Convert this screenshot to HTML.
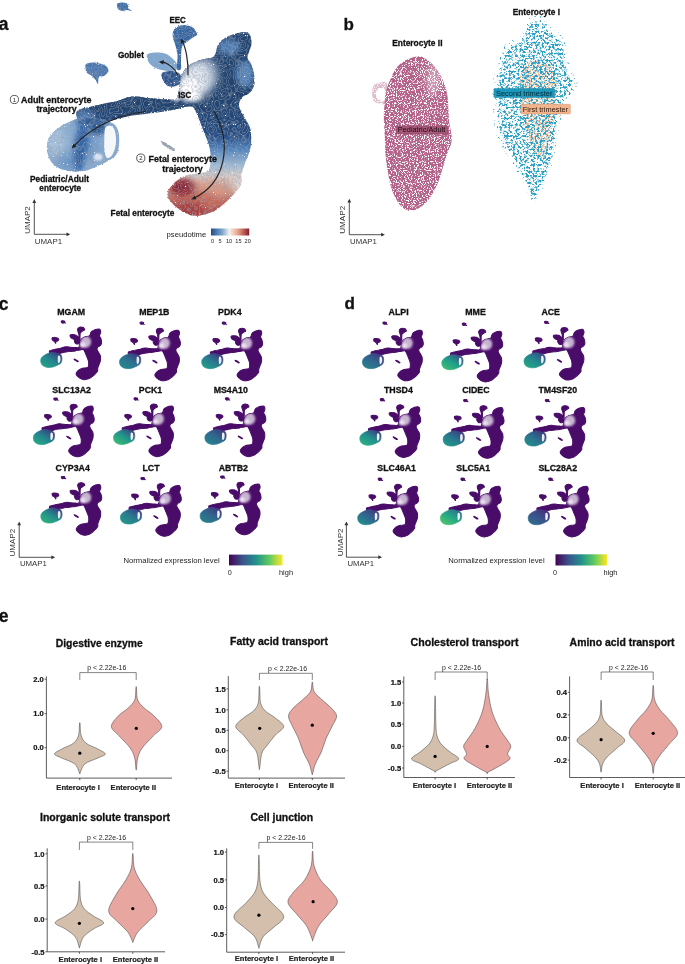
<!DOCTYPE html>
<html><head><meta charset="utf-8"><style>
html,body{margin:0;padding:0;background:#fff;overflow:hidden;}
svg{display:block;will-change:transform;}
text{font-family:"Liberation Sans",sans-serif;}
</style></head><body>
<svg width="685" height="964" viewBox="0 0 685 964">
<defs>
<linearGradient id="gdesc" gradientUnits="userSpaceOnUse" x1="0" y1="100" x2="0" y2="216">
<stop offset="0" stop-color="#22446f"/>
<stop offset="0.3" stop-color="#254b82"/>
<stop offset="0.42" stop-color="#4f82ba"/>
<stop offset="0.56" stop-color="#9fbcd8"/>
<stop offset="0.66" stop-color="#d8cdc8"/>
<stop offset="0.76" stop-color="#d99a84"/>
<stop offset="0.88" stop-color="#c05a4e"/>
<stop offset="1" stop-color="#a33a3c"/>
</linearGradient>
<linearGradient id="gpb" x1="0" y1="0" x2="1" y2="0">
<stop offset="0" stop-color="#440154"/><stop offset="0.25" stop-color="#3b528b"/><stop offset="0.5" stop-color="#21918c"/><stop offset="0.75" stop-color="#5ec962"/><stop offset="1" stop-color="#fde725"/>
</linearGradient>
<linearGradient id="gpt" x1="0" y1="0" x2="1" y2="0">
<stop offset="0" stop-color="#1e4c8c"/><stop offset="0.3" stop-color="#7fa9d2"/><stop offset="0.48" stop-color="#f4f1ee"/><stop offset="0.7" stop-color="#e7a58a"/><stop offset="1" stop-color="#8d1a2c"/>
</linearGradient>

<path id="u_top" d="M117.00,4.00C117.50,2.92 119.50,2.67 121.00,2.50C122.50,2.33 124.67,2.58 126.00,3.00C127.33,3.42 128.67,4.17 129.00,5.00C129.33,5.83 127.50,7.00 128.00,8.00C128.50,9.00 132.17,10.67 132.00,11.00C131.83,11.33 128.67,10.00 127.00,10.00C125.33,10.00 123.50,11.17 122.00,11.00C120.50,10.83 118.83,10.17 118.00,9.00C117.17,7.83 116.50,5.08 117.00,4.00Z"/>
<path id="u_left" d="M86.00,64.00C87.08,63.08 89.67,62.58 92.00,62.50C94.33,62.42 97.67,62.92 100.00,63.50C102.33,64.08 104.58,64.75 106.00,66.00C107.42,67.25 108.83,69.33 108.50,71.00C108.17,72.67 105.58,75.00 104.00,76.00C102.42,77.00 100.00,75.67 99.00,77.00C98.00,78.33 98.58,83.50 98.00,84.00C97.42,84.50 96.50,81.33 95.50,80.00C94.50,78.67 93.42,77.17 92.00,76.00C90.58,74.83 88.08,74.33 87.00,73.00C85.92,71.67 85.67,69.50 85.50,68.00C85.33,66.50 84.92,64.92 86.00,64.00Z"/>
<path id="u_goblet" d="M147.00,55.00C147.83,53.08 152.00,52.75 155.00,52.50C158.00,52.25 162.17,52.58 165.00,53.50C167.83,54.42 170.00,56.25 172.00,58.00C174.00,59.75 176.33,62.00 177.00,64.00C177.67,66.00 177.50,68.83 176.00,70.00C174.50,71.17 171.00,71.17 168.00,71.00C165.00,70.83 161.00,70.17 158.00,69.00C155.00,67.83 151.83,66.33 150.00,64.00C148.17,61.67 146.17,56.92 147.00,55.00Z"/>
<path id="u_gobdark" d="M162.00,73.00C163.50,71.50 169.00,70.83 172.00,71.00C175.00,71.17 178.50,72.17 180.00,74.00C181.50,75.83 181.67,80.00 181.00,82.00C180.33,84.00 178.17,85.33 176.00,86.00C173.83,86.67 170.17,87.00 168.00,86.00C165.83,85.00 164.00,82.17 163.00,80.00C162.00,77.83 160.50,74.50 162.00,73.00Z"/>
<path id="u_eec" d="M173.00,32.00C173.67,30.17 175.17,28.17 177.00,27.00C178.83,25.83 181.50,25.00 184.00,25.00C186.50,25.00 190.17,26.17 192.00,27.00C193.83,27.83 194.17,28.67 195.00,30.00C195.83,31.33 197.50,33.67 197.00,35.00C196.50,36.33 193.67,36.83 192.00,38.00C190.33,39.17 188.67,40.50 187.00,42.00C185.33,43.50 183.00,43.67 182.00,47.00C181.00,50.33 181.17,58.33 181.00,62.00C180.83,65.67 181.67,67.83 181.00,69.00C180.33,70.17 177.58,71.33 177.00,69.00C176.42,66.67 177.83,59.17 177.50,55.00C177.17,50.83 175.75,46.83 175.00,44.00C174.25,41.17 173.33,40.00 173.00,38.00C172.67,36.00 172.33,33.83 173.00,32.00Z"/>
<path id="u_body" d="M77.60,110.60C79.77,108.77 85.43,108.18 90.00,107.00C94.57,105.82 100.43,104.50 105.00,103.50C109.57,102.50 113.73,102.00 117.40,101.00C121.07,100.00 123.83,98.27 127.00,97.50C130.17,96.73 132.62,96.27 136.40,96.40C140.18,96.53 144.95,97.83 149.70,98.30C154.45,98.77 160.52,99.08 164.90,99.20C169.28,99.32 173.65,100.53 176.00,99.00C178.35,97.47 178.17,93.50 179.00,90.00C179.83,86.50 179.83,81.67 181.00,78.00C182.17,74.33 183.67,70.67 186.00,68.00C188.33,65.33 191.83,63.50 195.00,62.00C198.17,60.50 202.00,59.83 205.00,59.00C208.00,58.17 211.17,58.17 213.00,57.00C214.83,55.83 215.25,53.83 216.00,52.00C216.75,50.17 216.50,48.00 217.50,46.00C218.50,44.00 219.92,41.75 222.00,40.00C224.08,38.25 227.33,36.67 230.00,35.50C232.67,34.33 235.50,33.58 238.00,33.00C240.50,32.42 243.00,31.67 245.00,32.00C247.00,32.33 248.92,33.00 250.00,35.00C251.08,37.00 251.67,41.17 251.50,44.00C251.33,46.83 249.67,49.67 249.00,52.00C248.33,54.33 247.17,56.00 247.50,58.00C247.83,60.00 249.92,61.33 251.00,64.00C252.08,66.67 253.42,70.67 254.00,74.00C254.58,77.33 254.83,81.33 254.50,84.00C254.17,86.67 252.95,88.42 252.00,90.00C251.05,91.58 250.47,92.25 248.80,93.50C247.13,94.75 243.63,95.63 242.00,97.50C240.37,99.37 239.08,102.28 239.00,104.70C238.92,107.12 240.33,109.45 241.50,112.00C242.67,114.55 244.47,116.95 246.00,120.00C247.53,123.05 249.95,125.67 250.70,130.30C251.45,134.93 251.45,142.25 250.50,147.80C249.55,153.35 246.50,159.23 245.00,163.60C243.50,167.97 242.17,170.50 241.50,174.00C240.83,177.50 242.42,181.10 241.00,184.60C239.58,188.10 235.90,191.77 233.00,195.00C230.10,198.23 226.77,201.33 223.60,204.00C220.43,206.67 217.93,209.08 214.00,211.00C210.07,212.92 204.25,214.93 200.00,215.50C195.75,216.07 192.75,216.05 188.50,214.40C184.25,212.75 178.00,208.83 174.50,205.60C171.00,202.37 167.78,198.50 167.50,195.00C167.22,191.50 169.88,187.80 172.80,184.60C175.72,181.40 180.47,177.73 185.00,175.80C189.53,173.87 196.20,173.80 200.00,173.00C203.80,172.20 206.07,172.57 207.80,171.00C209.53,169.43 210.10,167.47 210.40,163.60C210.70,159.73 210.90,153.65 209.60,147.80C208.30,141.95 204.87,134.47 202.60,128.50C200.33,122.53 197.85,115.67 196.00,112.00C194.15,108.33 194.17,107.13 191.50,106.50C188.83,105.87 184.43,107.35 180.00,108.20C175.57,109.05 169.95,110.72 164.90,111.60C159.85,112.48 155.08,112.83 149.70,113.50C144.32,114.17 137.98,114.65 132.60,115.60C127.22,116.55 122.83,117.80 117.40,119.20C111.97,120.60 104.18,122.20 100.00,124.00C95.82,125.80 95.30,129.67 92.30,130.00C89.30,130.33 84.55,128.00 82.00,126.00C79.45,124.00 77.73,120.57 77.00,118.00C76.27,115.43 75.43,112.43 77.60,110.60Z"/>
<path id="u_ped" d="M52.00,133.50C54.08,131.00 57.33,128.83 60.00,127.00C62.67,125.17 65.33,123.83 68.00,122.50C70.67,121.17 73.00,120.00 76.00,119.00C79.00,118.00 82.67,116.67 86.00,116.50C89.33,116.33 92.67,117.25 96.00,118.00C99.33,118.75 103.00,120.00 106.00,121.00C109.00,122.00 111.92,122.17 114.00,124.00C116.08,125.83 117.67,128.50 118.50,132.00C119.33,135.50 119.42,141.17 119.00,145.00C118.58,148.83 117.83,152.33 116.00,155.00C114.17,157.67 111.00,159.17 108.00,161.00C105.00,162.83 102.00,164.33 98.00,166.00C94.00,167.67 89.33,170.25 84.00,171.00C78.67,171.75 71.17,171.67 66.00,170.50C60.83,169.33 56.08,166.92 53.00,164.00C49.92,161.08 48.42,156.67 47.50,153.00C46.58,149.33 46.75,145.25 47.50,142.00C48.25,138.75 49.92,136.00 52.00,133.50Z"/>
<path id="u_pedloop" d="M105.50,127.50C106.32,126.42 108.17,125.42 109.50,125.50C110.83,125.58 112.50,126.58 113.50,128.00C114.50,129.42 115.08,131.67 115.50,134.00C115.92,136.33 116.17,139.33 116.00,142.00C115.83,144.67 115.33,147.58 114.50,150.00C113.67,152.42 112.33,155.25 111.00,156.50C109.67,157.75 107.58,158.58 106.50,157.50C105.42,156.42 104.87,152.92 104.50,150.00C104.13,147.08 104.28,143.00 104.30,140.00C104.32,137.00 104.40,134.08 104.60,132.00C104.80,129.92 104.68,128.58 105.50,127.50Z"/>
<path id="u_pedloop_m" d="M106.05,129.53C106.69,128.60 108.13,127.75 109.17,127.83C110.21,127.90 111.51,128.75 112.29,129.95C113.07,131.15 113.52,133.07 113.85,135.05C114.17,137.03 114.37,139.58 114.24,141.85C114.11,144.12 113.72,146.60 113.07,148.65C112.42,150.70 111.38,153.11 110.34,154.18C109.30,155.24 107.67,155.95 106.83,155.03C105.98,154.10 105.56,151.13 105.27,148.65C104.98,146.17 105.10,142.70 105.11,140.15C105.13,137.60 105.19,135.12 105.35,133.35C105.50,131.58 105.41,130.45 106.05,129.53Z"/>
<path id="u_streak" d="M161.00,141.00C161.67,140.83 164.17,142.00 166.00,143.00C167.83,144.00 170.50,145.83 172.00,147.00C173.50,148.17 174.83,149.33 175.00,150.00C175.17,150.67 174.17,151.33 173.00,151.00C171.83,150.67 169.83,149.17 168.00,148.00C166.17,146.83 163.17,145.17 162.00,144.00C160.83,142.83 160.33,141.17 161.00,141.00Z"/>
<clipPath id="cbody"><use href="#u_body"/></clipPath>
<clipPath id="cped"><use href="#u_ped"/></clipPath>
<filter id="bl1" x="-50%" y="-50%" width="200%" height="200%"><feGaussianBlur stdDeviation="1"/></filter>
<filter id="bl1.5" x="-50%" y="-50%" width="200%" height="200%"><feGaussianBlur stdDeviation="1.5"/></filter>
<filter id="bl2" x="-50%" y="-50%" width="200%" height="200%"><feGaussianBlur stdDeviation="2"/></filter>
<filter id="bl2.5" x="-50%" y="-50%" width="200%" height="200%"><feGaussianBlur stdDeviation="2.5"/></filter>
<filter id="bl3" x="-50%" y="-50%" width="200%" height="200%"><feGaussianBlur stdDeviation="3"/></filter>
<filter id="bl4" x="-50%" y="-50%" width="200%" height="200%"><feGaussianBlur stdDeviation="4"/></filter>
<filter id="bl5" x="-50%" y="-50%" width="200%" height="200%"><feGaussianBlur stdDeviation="5"/></filter>
<filter id="texA" x="0" y="0" width="100%" height="100%" color-interpolation-filters="sRGB"><feTurbulence type="fractalNoise" baseFrequency="0.7" numOctaves="1" seed="21" result="dn"/><feDisplacementMap in="SourceGraphic" in2="dn" scale="2.6" xChannelSelector="R" yChannelSelector="G" result="disp"/><feTurbulence type="fractalNoise" baseFrequency="0.14" numOctaves="1" seed="4" result="n"/><feColorMatrix in="n" type="matrix" values="0 0 0 0 0.60  0 0 0 0 0.63  0 0 0 0 0.70  1 0 0 0 0" result="g0"/><feComponentTransfer in="g0" result="g"><feFuncA type="table" tableValues="0 0 0 0 0 0 0 0.5 0 0 0.5 0 0 0.5 0 0 0 0 0 0 0"/></feComponentTransfer><feComposite in="g" in2="disp" operator="atop" result="sg"/><feTurbulence type="fractalNoise" baseFrequency="0.9" numOctaves="1" seed="9" result="n2"/><feColorMatrix in="n2" type="matrix" values="0 0 0 0 0  0 0 0 0 0  0 0 0 0 0  0 -12 0 0 9.4" result="m"/><feComposite in="sg" in2="m" operator="in"/></filter>
<filter id="spkPink" x="0" y="0" width="100%" height="100%" color-interpolation-filters="sRGB"><feTurbulence type="fractalNoise" baseFrequency="0.85" numOctaves="2" seed="3" result="n"/><feColorMatrix in="n" type="matrix" values="0 0 0 0 0  0 0 0 0 0  0 0 0 0 0  9 0 0 0 -3.3" result="m"/><feComposite in="SourceGraphic" in2="m" operator="in"/></filter>
<filter id="spkTeal" x="0" y="0" width="100%" height="100%" color-interpolation-filters="sRGB"><feTurbulence type="fractalNoise" baseFrequency="0.45" numOctaves="2" seed="5" result="n"/><feColorMatrix in="n" type="matrix" values="0 0 0 0 0  0 0 0 0 0  0 0 0 0 0  8 0 0 0 -3.95" result="m"/><feComposite in="SourceGraphic" in2="m" operator="in"/></filter>
<filter id="spkTealO" x="0" y="0" width="100%" height="100%" color-interpolation-filters="sRGB"><feTurbulence type="fractalNoise" baseFrequency="0.45" numOctaves="2" seed="8" result="n"/><feColorMatrix in="n" type="matrix" values="0 0 0 0 0  0 0 0 0 0  0 0 0 0 0  8 0 0 0 -5.0" result="m"/><feComposite in="SourceGraphic" in2="m" operator="in"/></filter>
<filter id="spkPeach" x="0" y="0" width="100%" height="100%" color-interpolation-filters="sRGB"><feTurbulence type="fractalNoise" baseFrequency="0.6" numOctaves="2" seed="7" result="n"/><feColorMatrix in="n" type="matrix" values="0 0 0 0 0  0 0 0 0 0  0 0 0 0 0  9 0 0 0 -4.2" result="m"/><feComposite in="SourceGraphic" in2="m" operator="in"/></filter>
<g id="minibody" fill="#4a0c69" stroke="#4a0c69" stroke-width="3.5" stroke-linejoin="round"><use href="#u_top"/><use href="#u_left"/><use href="#u_goblet"/><use href="#u_gobdark"/><use href="#u_eec"/><use href="#u_body"/><use href="#u_streak"/></g>
<g id="minihub" clip-path="url(#cbody)"><ellipse cx="201" cy="79" rx="18" ry="21" fill="#d6c6de" opacity="0.9" filter="url(#bl4)"/><ellipse cx="190" cy="89" rx="10" ry="10" fill="#ebe3ef" filter="url(#bl3)"/></g>
<linearGradient id="mg0" x1="0.1" y1="0.95" x2="0.85" y2="0.05"><stop offset="0" stop-color="#22a286"/><stop offset="0.5" stop-color="#24868e"/><stop offset="1" stop-color="#3b3d82"/></linearGradient>
<linearGradient id="mg1" x1="0.1" y1="0.95" x2="0.85" y2="0.05"><stop offset="0" stop-color="#23898e"/><stop offset="0.5" stop-color="#2b728e"/><stop offset="1" stop-color="#3c3a80"/></linearGradient>
<linearGradient id="mg2" x1="0.1" y1="0.95" x2="0.85" y2="0.05"><stop offset="0" stop-color="#1fa088"/><stop offset="0.5" stop-color="#2a7b8e"/><stop offset="1" stop-color="#3c3a80"/></linearGradient>
<linearGradient id="mg3" x1="0.1" y1="0.95" x2="0.85" y2="0.05"><stop offset="0" stop-color="#25a985"/><stop offset="0.5" stop-color="#24848e"/><stop offset="1" stop-color="#3c3a80"/></linearGradient>
<linearGradient id="mg4" x1="0.1" y1="0.95" x2="0.85" y2="0.05"><stop offset="0" stop-color="#3cbc74"/><stop offset="0.5" stop-color="#20998a"/><stop offset="1" stop-color="#3b4687"/></linearGradient>
<linearGradient id="mg5" x1="0.1" y1="0.95" x2="0.85" y2="0.05"><stop offset="0" stop-color="#25838e"/><stop offset="0.5" stop-color="#2f698e"/><stop offset="1" stop-color="#403a80"/></linearGradient>
<linearGradient id="mg6" x1="0.1" y1="0.95" x2="0.85" y2="0.05"><stop offset="0" stop-color="#2eb37c"/><stop offset="0.5" stop-color="#238f8c"/><stop offset="1" stop-color="#3c3d82"/></linearGradient>
<linearGradient id="mg7" x1="0.1" y1="0.95" x2="0.85" y2="0.05"><stop offset="0" stop-color="#22988b"/><stop offset="0.5" stop-color="#2a7c8e"/><stop offset="1" stop-color="#3c3d82"/></linearGradient>
<linearGradient id="mg8" x1="0.1" y1="0.95" x2="0.85" y2="0.05"><stop offset="0" stop-color="#26838e"/><stop offset="0.5" stop-color="#31668d"/><stop offset="1" stop-color="#413980"/></linearGradient>
<linearGradient id="mg9" x1="0.1" y1="0.95" x2="0.85" y2="0.05"><stop offset="0" stop-color="#26818e"/><stop offset="0.5" stop-color="#30678e"/><stop offset="1" stop-color="#403a80"/></linearGradient>
<linearGradient id="mg10" x1="0.1" y1="0.95" x2="0.85" y2="0.05"><stop offset="0" stop-color="#40bd72"/><stop offset="0.5" stop-color="#1f9f88"/><stop offset="1" stop-color="#3b4f8a"/></linearGradient>
<linearGradient id="mg11" x1="0.1" y1="0.95" x2="0.85" y2="0.05"><stop offset="0" stop-color="#22a785"/><stop offset="0.5" stop-color="#248a8d"/><stop offset="1" stop-color="#3b4a88"/></linearGradient>
<linearGradient id="mg12" x1="0.1" y1="0.95" x2="0.85" y2="0.05"><stop offset="0" stop-color="#2ab07f"/><stop offset="0.5" stop-color="#22908c"/><stop offset="1" stop-color="#3c3d82"/></linearGradient>
<linearGradient id="mg13" x1="0.1" y1="0.95" x2="0.85" y2="0.05"><stop offset="0" stop-color="#20998a"/><stop offset="0.5" stop-color="#28788e"/><stop offset="1" stop-color="#3e3a80"/></linearGradient>
<linearGradient id="mg14" x1="0.1" y1="0.95" x2="0.85" y2="0.05"><stop offset="0" stop-color="#22908c"/><stop offset="0.5" stop-color="#2c718e"/><stop offset="1" stop-color="#3e3a80"/></linearGradient>
<linearGradient id="mg15" x1="0.1" y1="0.95" x2="0.85" y2="0.05"><stop offset="0" stop-color="#21908c"/><stop offset="0.5" stop-color="#30678e"/><stop offset="1" stop-color="#433a80"/></linearGradient>
<linearGradient id="mg16" x1="0.1" y1="0.95" x2="0.85" y2="0.05"><stop offset="0" stop-color="#52c569"/><stop offset="0.5" stop-color="#25a985"/><stop offset="1" stop-color="#2e6f8e"/></linearGradient>
<linearGradient id="mg17" x1="0.1" y1="0.95" x2="0.85" y2="0.05"><stop offset="0" stop-color="#2e6e8e"/><stop offset="0.5" stop-color="#3a538b"/><stop offset="1" stop-color="#46307e"/></linearGradient>
</defs>
<text x="-1.2" y="29.7" font-size="17.5" font-weight="bold" stroke="#111" stroke-width="0.3" fill="#111">a</text>
<g filter="url(#texA)">
<use href="#u_top" fill="#3f6fa9"/>
<use href="#u_left" fill="#4a78b0"/>
<use href="#u_goblet" fill="#7ea9d2"/>
<use href="#u_gobdark" fill="#2d558c"/>
<use href="#u_eec" fill="#3868a4"/>
<g clip-path="url(#cbody)">
<rect x="60" y="20" width="200" height="200" fill="url(#gdesc)"/>
<rect x="60" y="20" width="150" height="90" fill="#22446f"/>
<ellipse cx="205" cy="74" rx="13" ry="16" fill="#9db0c9" filter="url(#bl4)"/>
<ellipse cx="196" cy="80" rx="15" ry="18" fill="#dfe6ee" filter="url(#bl4)"/>
<ellipse cx="188" cy="88" rx="11" ry="11" fill="#ffffff" filter="url(#bl3)"/>
<ellipse cx="192" cy="97" rx="10" ry="4" fill="#ffffff" filter="url(#bl2)"/>
<ellipse cx="176" cy="98" rx="5" ry="3" fill="#f4f6f9" filter="url(#bl1.5)"/>
<ellipse cx="229" cy="47" rx="11" ry="8" fill="#4d7db5" filter="url(#bl2.5)"/>
<ellipse cx="245" cy="74" rx="9" ry="13" fill="#5383ba" filter="url(#bl2.5)"/>
<ellipse cx="238" cy="184" rx="7" ry="11" fill="#dcd3cf" filter="url(#bl3)"/>
<ellipse cx="212" cy="190" rx="16" ry="9" fill="#d99a84" filter="url(#bl4)"/>
<ellipse cx="200" cy="201" rx="20" ry="9" fill="#c86a58" filter="url(#bl3)"/>
<ellipse cx="182" cy="187" rx="13" ry="9" fill="#8c2232" filter="url(#bl3)"/>
<ellipse cx="190" cy="208" rx="16" ry="6" fill="#a63c3c" filter="url(#bl3)"/>
<ellipse cx="85" cy="118" rx="10" ry="8" fill="#4d7bb3" filter="url(#bl3)"/>
</g>
<g clip-path="url(#cped)">
<rect x="40" y="110" width="85" height="70" fill="#86abd2"/>
<ellipse cx="56" cy="142" rx="10" ry="16" fill="#a9c2dc" filter="url(#bl4)"/>
<ellipse cx="70" cy="162" rx="14" ry="8" fill="#6b97c8" filter="url(#bl4)"/>
<ellipse cx="92" cy="148" rx="7" ry="14" fill="#6f9bcb" filter="url(#bl3)"/>
<ellipse cx="92" cy="122" rx="16" ry="5" fill="#2c548c" filter="url(#bl2.5)"/>
<ellipse cx="97" cy="129" rx="9" ry="6" fill="#2e578e" filter="url(#bl2.5)"/>
<ellipse cx="81" cy="146" rx="7" ry="26" fill="#3565a5" transform="rotate(8 81 146)" filter="url(#bl2.5)"/>
</g>
<use href="#u_streak" fill="#9aa3ad"/>
</g>
<use href="#u_pedloop" fill="#f6f7f9"/>
<ellipse cx="98" cy="157" rx="4.5" ry="3.6" fill="#f3f6f9" opacity="0.8" filter="url(#bl1)"/>
<text x="169.4" y="23.1" font-size="8.4" font-weight="bold" stroke="#111" stroke-width="0.3" fill="#111" textLength="16.4" lengthAdjust="spacingAndGlyphs">EEC</text>
<text x="117.9" y="57.6" font-size="8.4" font-weight="bold" stroke="#111" stroke-width="0.3" fill="#111" textLength="26" lengthAdjust="spacingAndGlyphs">Goblet</text>
<text x="178.2" y="98.1" font-size="8.6" font-weight="bold" stroke="#111" stroke-width="0.3" fill="#111" textLength="13" lengthAdjust="spacingAndGlyphs">ISC</text>
<circle cx="14.4" cy="99.5" r="4.1" fill="none" stroke="#222" stroke-width="0.75"/><text x="14.4" y="101.7" font-size="5.8" text-anchor="middle" fill="#222">1</text>
<text x="21" y="103.1" font-size="9.3" font-weight="bold" stroke="#111" stroke-width="0.3" fill="#111" textLength="70.5" lengthAdjust="spacingAndGlyphs">Adult enterocyte</text>
<text x="36.4" y="112.3" font-size="9.3" font-weight="bold" stroke="#111" stroke-width="0.3" fill="#111" textLength="40.2" lengthAdjust="spacingAndGlyphs">trajectory</text>
<text x="30" y="182.1" font-size="8.6" font-weight="bold" stroke="#111" stroke-width="0.3" fill="#111" textLength="59" lengthAdjust="spacingAndGlyphs">Pediatric/Adult</text>
<text x="39.3" y="191.4" font-size="8.6" font-weight="bold" stroke="#111" stroke-width="0.3" fill="#111" textLength="41.8" lengthAdjust="spacingAndGlyphs">enterocyte</text>
<circle cx="140.8" cy="158.1" r="4.1" fill="none" stroke="#222" stroke-width="0.75"/><text x="140.8" y="160.3" font-size="5.8" text-anchor="middle" fill="#222">2</text>
<text x="148.5" y="162.1" font-size="9.3" font-weight="bold" stroke="#111" stroke-width="0.3" fill="#111" textLength="68.5" lengthAdjust="spacingAndGlyphs">Fetal enterocyte</text>
<text x="162.3" y="172.1" font-size="9.3" font-weight="bold" stroke="#111" stroke-width="0.3" fill="#111" textLength="40.5" lengthAdjust="spacingAndGlyphs">trajectory</text>
<text x="110.6" y="215.9" font-size="8.6" font-weight="bold" stroke="#111" stroke-width="0.3" fill="#111" textLength="63.7" lengthAdjust="spacingAndGlyphs">Fetal enterocyte</text>
<path d="M177.8,75.2 C175,68 167,62.5 162.15,62.15" fill="none" stroke="#222" stroke-width="1.2"/><path d="M158.8,61.9 L163.75,60.06 L163.43,64.44Z" fill="#222"/>
<path d="M188,75.2 C188.5,60 185.5,47 182.19,41.30" fill="none" stroke="#222" stroke-width="1.2"/><path d="M180.5,38.4 L184.81,41.44 L181.01,43.66Z" fill="#222"/>
<path d="M146,111.5 C118,114 90,128 73.94,145.99" fill="none" stroke="#222" stroke-width="1.2"/><path d="M71.7,148.5 L73.26,143.45 L76.54,146.38Z" fill="#222"/>
<path d="M214,111 C233,145 225,183 194.22,198.03" fill="none" stroke="#222" stroke-width="1.2"/><path d="M191.2,199.5 L194.55,195.42 L196.48,199.37Z" fill="#222"/>
<path d="M34.3,202.1 L34.3,234.3 L67.3,234.3" stroke="#333" stroke-width="0.85" fill="none"/><path d="M32.4,202.9 L34.3,199.1 L36.199999999999996,202.9Z" fill="#333"/><path d="M66.5,232.4 L70.3,234.3 L66.5,236.20000000000002Z" fill="#333"/><text x="34.8" y="243.5" font-size="7.6" fill="#333" textLength="27.3" lengthAdjust="spacingAndGlyphs">UMAP1</text><text x="29.9" y="220" font-size="7.6" fill="#333" text-anchor="middle" textLength="27.6" lengthAdjust="spacingAndGlyphs" transform="rotate(-90 29.9 220)">UMAP2</text>
<text x="166.6" y="236.7" font-size="7.9" fill="#222" textLength="39.7" lengthAdjust="spacingAndGlyphs">pseudotime</text>
<rect x="211" y="228.5" width="38.2" height="7" fill="url(#gpt)"/>
<text x="212.5" y="243.2" font-size="5.6" text-anchor="middle" fill="#222">0</text>
<text x="220.1" y="243.2" font-size="5.6" text-anchor="middle" fill="#222">5</text>
<text x="229" y="243.2" font-size="5.6" text-anchor="middle" fill="#222">10</text>
<text x="238.4" y="243.2" font-size="5.6" text-anchor="middle" fill="#222">15</text>
<text x="247.7" y="243.2" font-size="5.6" text-anchor="middle" fill="#222">20</text>
<text x="343.4" y="29.5" font-size="17" font-weight="bold" stroke="#111" stroke-width="0.3" fill="#111">b</text>
<text x="392.2" y="46" font-size="8.6" font-weight="bold" stroke="#111" stroke-width="0.3" fill="#111" textLength="50.3" lengthAdjust="spacingAndGlyphs">Enterocyte II</text>
<text x="512.7" y="15.2" font-size="8.6" font-weight="bold" stroke="#111" stroke-width="0.3" fill="#111" textLength="47.4" lengthAdjust="spacingAndGlyphs">Enterocyte I</text>
<path d="M419.90,56.20C422.55,56.50 424.65,58.08 427.00,59.70C429.35,61.32 431.65,63.12 434.00,65.90C436.35,68.68 439.03,72.30 441.10,76.40C443.17,80.50 445.23,86.08 446.40,90.50C447.57,94.92 447.67,97.90 448.10,102.90C448.53,107.90 448.40,114.33 449.00,120.50C449.60,126.67 452.13,134.02 451.70,139.90C451.27,145.78 448.17,150.22 446.40,155.80C444.63,161.38 442.87,168.12 441.10,173.40C439.33,178.68 438.15,182.80 435.80,187.50C433.45,192.20 430.23,197.93 427.00,201.60C423.77,205.27 419.63,208.03 416.40,209.50C413.17,210.97 410.53,211.42 407.60,210.40C404.67,209.38 401.45,206.92 398.80,203.40C396.15,199.88 393.47,194.30 391.70,189.30C389.93,184.30 389.22,178.98 388.20,173.40C387.18,167.82 386.18,162.27 385.60,155.80C385.02,149.33 385.00,141.07 384.70,134.60C384.40,128.13 383.80,122.28 383.80,117.00C383.80,111.72 384.27,107.32 384.70,102.90C385.13,98.48 385.52,94.32 386.40,90.50C387.28,86.68 388.52,83.52 390.00,80.00C391.48,76.48 393.25,72.35 395.30,69.40C397.35,66.45 399.67,64.22 402.30,62.30C404.93,60.38 408.17,58.92 411.10,57.90C414.03,56.88 417.25,55.90 419.90,56.20Z" fill="#b4628a" filter="url(#spkPink)"/>
<path d="M387.00,83.50C385.90,80.17 381.55,82.70 379.40,83.00C377.25,83.30 375.28,84.05 374.10,85.30C372.92,86.55 372.53,88.45 372.30,90.50C372.07,92.55 372.25,95.68 372.70,97.60C373.15,99.52 373.58,100.93 375.00,102.00C376.42,103.07 379.37,103.83 381.20,104.00C383.03,104.17 385.03,106.42 386.00,103.00C386.97,99.58 388.10,86.83 387.00,83.50Z M384.50,88.80C383.38,87.02 379.22,88.62 377.80,89.50C376.38,90.38 376.00,92.48 376.00,94.10C376.00,95.72 376.38,98.18 377.80,99.20C379.22,100.22 383.38,101.93 384.50,100.20C385.62,98.47 385.62,90.58 384.50,88.80Z" fill-rule="evenodd" fill="#b96a8e" opacity="0.45" filter="url(#spkPink)"/>
<ellipse cx="433" cy="80" rx="7" ry="16" fill="#fff" opacity="0.35" filter="url(#bl3)"/>
<path d="M526.00,64.00C529.17,60.83 534.00,60.83 538.00,61.00C542.00,61.17 547.00,62.17 550.00,65.00C553.00,67.83 555.00,72.17 556.00,78.00C557.00,83.83 556.50,92.17 556.00,100.00C555.50,107.83 554.50,117.00 553.00,125.00C551.50,133.00 549.17,142.50 547.00,148.00C544.83,153.50 542.33,157.67 540.00,158.00C537.67,158.33 535.33,155.50 533.00,150.00C530.67,144.50 528.17,133.33 526.00,125.00C523.83,116.67 521.17,107.50 520.00,100.00C518.83,92.50 518.00,86.00 519.00,80.00C520.00,74.00 522.83,67.17 526.00,64.00Z" fill="#f2c09c" filter="url(#spkPeach)"/>
<path d="M534.33,16.10C536.79,15.55 539.60,15.38 542.27,17.21C544.95,19.04 546.72,23.57 550.39,27.07C554.06,30.57 561.51,33.79 564.28,38.23C567.04,42.67 565.68,48.47 566.97,53.71C568.26,58.95 570.18,64.88 572.01,69.68C573.84,74.48 578.19,78.22 577.95,82.50C577.71,86.79 572.93,90.80 570.58,95.41C568.23,100.02 565.94,103.80 563.86,110.17C561.78,116.54 559.73,126.05 558.10,133.64C556.47,141.23 555.75,148.40 554.07,155.73C552.40,163.07 550.56,171.10 548.04,177.66C545.51,184.22 541.19,190.74 538.91,195.10C536.63,199.46 536.23,204.15 534.35,203.80C532.46,203.45 529.86,197.35 527.59,192.99C525.32,188.63 524.22,183.88 520.74,177.64C517.25,171.39 510.84,162.95 506.69,155.51C502.53,148.06 498.13,141.76 495.82,132.95C493.51,124.15 493.27,111.26 492.81,102.68C492.35,94.09 491.96,88.84 493.07,81.46C494.18,74.07 497.59,64.48 499.47,58.39C501.35,52.29 500.83,48.64 504.34,44.87C507.86,41.11 516.71,39.86 520.58,35.80C524.44,31.74 525.24,23.80 527.53,20.52C529.82,17.24 531.88,16.65 534.33,16.10Z" fill="#2a9fc4" filter="url(#spkTealO)"/>
<path d="M534.44,21.60C536.73,21.05 539.37,20.88 541.84,22.69C544.32,24.50 545.95,29.04 549.31,32.46C552.66,35.88 559.53,38.91 561.96,43.21C564.38,47.51 562.91,53.26 563.87,58.25C564.84,63.24 566.26,68.79 567.75,73.17C569.25,77.55 573.28,80.73 572.84,84.54C572.40,88.35 567.46,92.08 565.11,96.02C562.76,99.96 560.40,102.67 558.74,108.17C557.07,113.67 556.17,121.97 555.11,129.02C554.06,136.07 553.71,143.30 552.39,150.50C551.07,157.70 549.47,165.71 547.19,172.22C544.92,178.74 540.86,185.25 538.74,189.60C536.61,193.95 536.21,198.65 534.43,198.30C532.65,197.95 530.18,191.85 528.08,187.51C525.97,183.16 524.92,178.38 521.78,172.24C518.64,166.09 512.85,157.76 509.22,150.63C505.60,143.49 501.85,137.48 500.03,129.41C498.21,121.35 498.61,109.88 498.29,102.24C497.98,94.60 497.34,90.19 498.15,83.57C498.95,76.94 501.64,68.15 503.13,62.49C504.62,56.84 503.98,53.19 507.10,49.63C510.23,46.07 518.37,45.08 521.87,41.14C525.37,37.20 526.02,29.25 528.11,25.99C530.21,22.73 532.15,22.15 534.44,21.60Z" fill="#2a9fc4" filter="url(#spkTeal)"/>
<rect x="395.9" y="125.9" width="51.8" height="8.1" rx="0.8" fill="#a65878" stroke="#7a3a58" stroke-width="0.4"/>
<text x="397.8" y="132.3" font-size="7" fill="#1e0a12" textLength="47.4" lengthAdjust="spacingAndGlyphs">Pediatric/Adult</text>
<rect x="493.9" y="88.5" width="60.7" height="9" rx="0.8" fill="#1b98bb" stroke="#137a98" stroke-width="0.4"/>
<text x="495.9" y="95.6" font-size="7.1" fill="#0a2a35" textLength="56.5" lengthAdjust="spacingAndGlyphs">Second trimester</text>
<rect x="520.9" y="104.3" width="49.5" height="9.6" rx="0.8" fill="#f3b48d" stroke="#d09068" stroke-width="0.4"/>
<text x="522.8" y="111.9" font-size="7.1" fill="#2a1a10" textLength="45.4" lengthAdjust="spacingAndGlyphs">First trimester</text>
<path d="M349.3,201.7 L349.3,234.7 L381.9,234.7" stroke="#333" stroke-width="0.85" fill="none"/><path d="M347.40000000000003,202.5 L349.3,198.7 L351.2,202.5Z" fill="#333"/><path d="M381.09999999999997,232.79999999999998 L384.9,234.7 L381.09999999999997,236.6Z" fill="#333"/><text x="350.1" y="243.6" font-size="7.6" fill="#333" textLength="26.8" lengthAdjust="spacingAndGlyphs">UMAP1</text><text x="345.2" y="219.8" font-size="7.6" fill="#333" text-anchor="middle" textLength="27.9" lengthAdjust="spacingAndGlyphs" transform="rotate(-90 345.2 219.8)">UMAP2</text>
<text x="-1.2" y="309.9" font-size="17.5" font-weight="bold" stroke="#111" stroke-width="0.3" fill="#111">c</text>
<g transform="translate(26.98,320.11) scale(0.293,0.276)"><use href="#minibody"/><use href="#minihub"/><use href="#u_ped" fill="url(#mg0)" stroke="url(#mg0)" stroke-width="2.5"/><use href="#u_pedloop_m" fill="#f1eef3"/></g>
<text x="71.2" y="315.1" font-size="8.8" font-weight="bold" stroke="#111" stroke-width="0.3" text-anchor="middle" fill="#111">MGAM</text>
<g transform="translate(105.78,321.31) scale(0.293,0.276)"><use href="#minibody"/><use href="#minihub"/><use href="#u_ped" fill="url(#mg1)" stroke="url(#mg1)" stroke-width="2.5"/><use href="#u_pedloop_m" fill="#f1eef3"/></g>
<text x="154.3" y="315.1" font-size="8.8" font-weight="bold" stroke="#111" stroke-width="0.3" text-anchor="middle" fill="#111">MEP1B</text>
<g transform="translate(187.98,321.31) scale(0.293,0.276)"><use href="#minibody"/><use href="#minihub"/><use href="#u_ped" fill="url(#mg2)" stroke="url(#mg2)" stroke-width="2.5"/><use href="#u_pedloop_m" fill="#f1eef3"/></g>
<text x="229.8" y="315.1" font-size="8.8" font-weight="bold" stroke="#111" stroke-width="0.3" text-anchor="middle" fill="#111">PDK4</text>
<g transform="translate(19.58,397.21) scale(0.293,0.276)"><use href="#minibody"/><use href="#minihub"/><use href="#u_ped" fill="url(#mg3)" stroke="url(#mg3)" stroke-width="2.5"/><use href="#u_pedloop_m" fill="#f1eef3"/></g>
<text x="71.6" y="393.2" font-size="8.8" font-weight="bold" stroke="#111" stroke-width="0.3" text-anchor="middle" fill="#111">SLC13A2</text>
<g transform="translate(99.78,397.11) scale(0.293,0.276)"><use href="#minibody"/><use href="#minihub"/><use href="#u_ped" fill="url(#mg4)" stroke="url(#mg4)" stroke-width="2.5"/><use href="#u_pedloop_m" fill="#f1eef3"/></g>
<text x="150.5" y="393.2" font-size="8.8" font-weight="bold" stroke="#111" stroke-width="0.3" text-anchor="middle" fill="#111">PCK1</text>
<g transform="translate(191.18,397.11) scale(0.293,0.276)"><use href="#minibody"/><use href="#minihub"/><use href="#u_ped" fill="url(#mg5)" stroke="url(#mg5)" stroke-width="2.5"/><use href="#u_pedloop_m" fill="#f1eef3"/></g>
<text x="230.8" y="393.2" font-size="8.8" font-weight="bold" stroke="#111" stroke-width="0.3" text-anchor="middle" fill="#111">MS4A10</text>
<g transform="translate(27.08,475.71) scale(0.293,0.276)"><use href="#minibody"/><use href="#minihub"/><use href="#u_ped" fill="url(#mg6)" stroke="url(#mg6)" stroke-width="2.5"/><use href="#u_pedloop_m" fill="#f1eef3"/></g>
<text x="72.7" y="471.3" font-size="8.8" font-weight="bold" stroke="#111" stroke-width="0.3" text-anchor="middle" fill="#111">CYP3A4</text>
<g transform="translate(106.68,476.71) scale(0.293,0.276)"><use href="#minibody"/><use href="#minihub"/><use href="#u_ped" fill="url(#mg7)" stroke="url(#mg7)" stroke-width="2.5"/><use href="#u_pedloop_m" fill="#f1eef3"/></g>
<text x="151" y="471.3" font-size="8.8" font-weight="bold" stroke="#111" stroke-width="0.3" text-anchor="middle" fill="#111">LCT</text>
<g transform="translate(186.38,475.21) scale(0.293,0.276)"><use href="#minibody"/><use href="#minihub"/><use href="#u_ped" fill="url(#mg8)" stroke="url(#mg8)" stroke-width="2.5"/><use href="#u_pedloop_m" fill="#f1eef3"/></g>
<text x="233.3" y="471.3" font-size="8.8" font-weight="bold" stroke="#111" stroke-width="0.3" text-anchor="middle" fill="#111">ABTB2</text>
<path d="M19.2,524.4 L19.2,557.3 L52.2,557.3" stroke="#333" stroke-width="0.85" fill="none"/><path d="M17.3,525.1999999999999 L19.2,521.4 L21.099999999999998,525.1999999999999Z" fill="#333"/><path d="M51.400000000000006,555.4 L55.2,557.3 L51.400000000000006,559.1999999999999Z" fill="#333"/><text x="19.9" y="566.4" font-size="7.6" fill="#333" textLength="27.1" lengthAdjust="spacingAndGlyphs">UMAP1</text><text x="15.3" y="542.7" font-size="7.6" fill="#333" text-anchor="middle" textLength="27.6" lengthAdjust="spacingAndGlyphs" transform="rotate(-90 15.3 542.7)">UMAP2</text>
<text x="123.4" y="563.4" font-size="7.6" fill="#222" textLength="96.3" lengthAdjust="spacingAndGlyphs">Normalized expression level</text>
<rect x="229" y="554.6" width="53.5" height="10.8" fill="url(#gpb)"/>
<text x="229.8" y="574.5" font-size="7.2" text-anchor="middle" fill="#222">0</text>
<text x="286" y="574.5" font-size="7.2" text-anchor="middle" fill="#222" textLength="14" lengthAdjust="spacingAndGlyphs">high</text>
<text x="344.6" y="309" font-size="17" font-weight="bold" stroke="#111" stroke-width="0.3" fill="#111">d</text>
<g transform="translate(348.68,321.31) scale(0.293,0.276)"><use href="#minibody"/><use href="#minihub"/><use href="#u_ped" fill="url(#mg9)" stroke="url(#mg9)" stroke-width="2.5"/><use href="#u_pedloop_m" fill="#f1eef3"/></g>
<text x="398.6" y="315.1" font-size="8.8" font-weight="bold" stroke="#111" stroke-width="0.3" text-anchor="middle" fill="#111">ALPI</text>
<g transform="translate(428.08,322.41) scale(0.293,0.276)"><use href="#minibody"/><use href="#minihub"/><use href="#u_ped" fill="url(#mg10)" stroke="url(#mg10)" stroke-width="2.5"/><use href="#u_pedloop_m" fill="#f1eef3"/></g>
<text x="475.5" y="315.1" font-size="8.8" font-weight="bold" stroke="#111" stroke-width="0.3" text-anchor="middle" fill="#111">MME</text>
<g transform="translate(510.28,320.51) scale(0.293,0.276)"><use href="#minibody"/><use href="#minihub"/><use href="#u_ped" fill="url(#mg11)" stroke="url(#mg11)" stroke-width="2.5"/><use href="#u_pedloop_m" fill="#f1eef3"/></g>
<text x="550.7" y="315.1" font-size="8.8" font-weight="bold" stroke="#111" stroke-width="0.3" text-anchor="middle" fill="#111">ACE</text>
<g transform="translate(346.08,397.91) scale(0.293,0.276)"><use href="#minibody"/><use href="#minihub"/><use href="#u_ped" fill="url(#mg12)" stroke="url(#mg12)" stroke-width="2.5"/><use href="#u_pedloop_m" fill="#f1eef3"/></g>
<text x="398.4" y="392.8" font-size="8.8" font-weight="bold" stroke="#111" stroke-width="0.3" text-anchor="middle" fill="#111">THSD4</text>
<g transform="translate(429.38,398.71) scale(0.293,0.276)"><use href="#minibody"/><use href="#minihub"/><use href="#u_ped" fill="url(#mg13)" stroke="url(#mg13)" stroke-width="2.5"/><use href="#u_pedloop_m" fill="#f1eef3"/></g>
<text x="475.9" y="392.8" font-size="8.8" font-weight="bold" stroke="#111" stroke-width="0.3" text-anchor="middle" fill="#111">CIDEC</text>
<g transform="translate(511.08,398.71) scale(0.293,0.276)"><use href="#minibody"/><use href="#minihub"/><use href="#u_ped" fill="url(#mg14)" stroke="url(#mg14)" stroke-width="2.5"/><use href="#u_pedloop_m" fill="#f1eef3"/></g>
<text x="557.8" y="392.8" font-size="8.8" font-weight="bold" stroke="#111" stroke-width="0.3" text-anchor="middle" fill="#111">TM4SF20</text>
<g transform="translate(343.98,477.41) scale(0.293,0.276)"><use href="#minibody"/><use href="#minihub"/><use href="#u_ped" fill="url(#mg15)" stroke="url(#mg15)" stroke-width="2.5"/><use href="#u_pedloop_m" fill="#f1eef3"/></g>
<text x="396.6" y="471" font-size="8.8" font-weight="bold" stroke="#111" stroke-width="0.3" text-anchor="middle" fill="#111">SLC46A1</text>
<g transform="translate(426.68,477.41) scale(0.293,0.276)"><use href="#minibody"/><use href="#minihub"/><use href="#u_ped" fill="url(#mg16)" stroke="url(#mg16)" stroke-width="2.5"/><use href="#u_pedloop_m" fill="#f1eef3"/></g>
<text x="473.2" y="471" font-size="8.8" font-weight="bold" stroke="#111" stroke-width="0.3" text-anchor="middle" fill="#111">SLC5A1</text>
<g transform="translate(514.48,477.41) scale(0.293,0.276)"><use href="#minibody"/><use href="#minihub"/><use href="#u_ped" fill="url(#mg17)" stroke="url(#mg17)" stroke-width="2.5"/><use href="#u_pedloop_m" fill="#f1eef3"/></g>
<text x="557.8" y="471" font-size="8.8" font-weight="bold" stroke="#111" stroke-width="0.3" text-anchor="middle" fill="#111">SLC28A2</text>
<path d="M346.4,524.4 L346.4,557.2 L379.1,557.2" stroke="#333" stroke-width="0.85" fill="none"/><path d="M344.5,525.1999999999999 L346.4,521.4 L348.29999999999995,525.1999999999999Z" fill="#333"/><path d="M378.3,555.3000000000001 L382.1,557.2 L378.3,559.1Z" fill="#333"/><text x="347.4" y="566" font-size="7.6" fill="#333" textLength="26.7" lengthAdjust="spacingAndGlyphs">UMAP1</text><text x="342.8" y="542.3" font-size="7.6" fill="#333" text-anchor="middle" textLength="27.8" lengthAdjust="spacingAndGlyphs" transform="rotate(-90 342.8 542.3)">UMAP2</text>
<text x="448.3" y="563.4" font-size="7.6" fill="#222" textLength="96.3" lengthAdjust="spacingAndGlyphs">Normalized expression level</text>
<rect x="555.5" y="554.3" width="51.5" height="11.2" fill="url(#gpb)"/>
<text x="555" y="574.5" font-size="7.2" text-anchor="middle" fill="#222">0</text>
<text x="610.4" y="574.5" font-size="7.2" text-anchor="middle" fill="#222" textLength="14" lengthAdjust="spacingAndGlyphs">high</text>
<text x="-1.2" y="622.3" font-size="17.5" font-weight="bold" stroke="#111" stroke-width="0.3" fill="#111">e</text>
<text x="99.2" y="646.6" font-size="10.2" font-weight="bold" stroke="#111" stroke-width="0.3" text-anchor="middle" fill="#111" textLength="87" lengthAdjust="spacingAndGlyphs">Digestive enzyme</text><g stroke="#333" stroke-width="0.8" fill="none"><path d="M46.4,676.4 L46.4,778.1 L172,778.1"/><path d="M44.6,679.2 L46.4,679.2"/><path d="M44.6,713.7 L46.4,713.7"/><path d="M44.6,747.7 L46.4,747.7"/><path d="M79.8,778.1 L79.8,780.1"/><path d="M136.2,778.1 L136.2,780.1"/><path d="M79.8,680 L79.8,672.6 L136.2,672.6 L136.2,680" stroke-width="0.6"/></g><text x="43.8" y="681.9000000000001" font-size="7.6" font-weight="bold" stroke="#151515" stroke-width="0.22" text-anchor="end" fill="#151515">2.0</text><text x="43.8" y="716.4000000000001" font-size="7.6" font-weight="bold" stroke="#151515" stroke-width="0.22" text-anchor="end" fill="#151515">1.0</text><text x="43.8" y="750.4000000000001" font-size="7.6" font-weight="bold" stroke="#151515" stroke-width="0.22" text-anchor="end" fill="#151515">0.0</text><text x="106.75" y="670.2" font-size="7" text-anchor="middle" fill="#222" textLength="39.1" lengthAdjust="spacingAndGlyphs">p &lt; 2.22e-16</text><path d="M80.10,724.00C80.35,725.83 80.05,731.83 81.00,735.00C81.95,738.17 83.00,740.67 85.80,743.00C88.60,745.33 94.55,747.17 97.80,749.00C101.05,750.83 105.30,752.50 105.30,754.00C105.30,755.50 101.22,756.33 97.80,758.00C94.38,759.67 87.75,761.52 84.80,764.00C81.85,766.48 80.98,771.42 80.10,772.90C79.22,774.38 80.38,774.38 79.50,772.90C78.62,771.42 77.75,766.48 74.80,764.00C71.85,761.52 65.18,759.67 61.80,758.00C58.42,756.33 54.50,755.50 54.50,754.00C54.50,752.50 58.58,750.83 61.80,749.00C65.02,747.17 71.00,745.33 73.80,743.00C76.60,740.67 77.65,738.17 78.60,735.00C79.55,731.83 79.25,725.83 79.50,724.00C79.75,722.17 79.85,722.17 80.10,724.00Z" fill="#d4bfad" stroke="#3a3a3a" stroke-width="0.5"/><path d="M136.50,688.00C136.80,690.00 136.42,696.67 137.70,700.00C138.98,703.33 141.45,705.33 144.20,708.00C146.95,710.67 151.27,712.90 154.20,716.00C157.13,719.10 161.97,723.27 161.80,726.60C161.63,729.93 156.47,732.43 153.20,736.00C149.93,739.57 144.78,744.33 142.20,748.00C139.62,751.67 138.65,754.53 137.70,758.00C136.75,761.47 136.80,767.00 136.50,768.80C136.20,770.60 136.20,770.60 135.90,768.80C135.60,767.00 135.65,761.47 134.70,758.00C133.75,754.53 132.78,751.67 130.20,748.00C127.62,744.33 122.33,739.57 119.20,736.00C116.07,732.43 111.57,729.93 111.40,726.60C111.23,723.27 115.40,719.10 118.20,716.00C121.00,712.90 125.45,710.67 128.20,708.00C130.95,705.33 133.42,703.33 134.70,700.00C135.98,696.67 135.60,690.00 135.90,688.00C136.20,686.00 136.20,686.00 136.50,688.00Z" fill="#e8a6a1" stroke="#3a3a3a" stroke-width="0.5"/><circle cx="79.8" cy="753.2" r="1.6" fill="#000"/><circle cx="136.3" cy="728.3" r="1.6" fill="#000"/><text x="78.05" y="790.1" font-size="7.6" font-weight="bold" stroke="#222" stroke-width="0.22" text-anchor="middle" fill="#222" textLength="43.4" lengthAdjust="spacingAndGlyphs">Enterocyte I</text><text x="133.3" y="790.1" font-size="7.6" font-weight="bold" stroke="#222" stroke-width="0.22" text-anchor="middle" fill="#222" textLength="45.4" lengthAdjust="spacingAndGlyphs">Enterocyte II</text>
<text x="279" y="645.3" font-size="10.2" font-weight="bold" stroke="#111" stroke-width="0.3" text-anchor="middle" fill="#111" textLength="97.9" lengthAdjust="spacingAndGlyphs">Fatty acid transport</text><g stroke="#333" stroke-width="0.8" fill="none"><path d="M228.3,676.1 L228.3,778.1 L345,778.1"/><path d="M226.5,688.9 L228.3,688.9"/><path d="M226.5,709.9 L228.3,709.9"/><path d="M226.5,730.3 L228.3,730.3"/><path d="M226.5,750.7 L228.3,750.7"/><path d="M226.5,771.2 L228.3,771.2"/><path d="M259.4,778.1 L259.4,780.1"/><path d="M312.3,778.1 L312.3,780.1"/><path d="M259.4,680 L259.4,673.3 L312.3,673.3 L312.3,680" stroke-width="0.6"/></g><text x="225.70000000000002" y="691.6" font-size="7.6" font-weight="bold" stroke="#151515" stroke-width="0.22" text-anchor="end" fill="#151515">1.5</text><text x="225.70000000000002" y="712.6" font-size="7.6" font-weight="bold" stroke="#151515" stroke-width="0.22" text-anchor="end" fill="#151515">1.0</text><text x="225.70000000000002" y="733.0" font-size="7.6" font-weight="bold" stroke="#151515" stroke-width="0.22" text-anchor="end" fill="#151515">0.5</text><text x="225.70000000000002" y="753.4000000000001" font-size="7.6" font-weight="bold" stroke="#151515" stroke-width="0.22" text-anchor="end" fill="#151515">0.0</text><text x="225.70000000000002" y="773.9000000000001" font-size="7.6" font-weight="bold" stroke="#151515" stroke-width="0.22" text-anchor="end" fill="#151515">-0.5</text><text x="287.5" y="670.9" font-size="7" text-anchor="middle" fill="#222" textLength="39.1" lengthAdjust="spacingAndGlyphs">p &lt; 2.22e-16</text><path d="M259.70,688.00C259.95,690.50 259.65,699.17 260.60,703.00C261.55,706.83 262.93,708.50 265.40,711.00C267.87,713.50 272.35,715.42 275.40,718.00C278.45,720.58 283.70,723.67 283.70,726.50C283.70,729.33 278.12,731.92 275.40,735.00C272.68,738.08 269.65,742.00 267.40,745.00C265.15,748.00 263.18,749.18 261.90,753.00C260.62,756.82 260.17,765.42 259.70,767.90C259.23,770.38 259.57,770.38 259.10,767.90C258.63,765.42 258.18,756.82 256.90,753.00C255.62,749.18 253.65,748.00 251.40,745.00C249.15,742.00 246.02,738.08 243.40,735.00C240.78,731.92 235.70,729.33 235.70,726.50C235.70,723.67 240.45,720.58 243.40,718.00C246.35,715.42 250.93,713.50 253.40,711.00C255.87,708.50 257.25,706.83 258.20,703.00C259.15,699.17 258.85,690.50 259.10,688.00C259.35,685.50 259.45,685.50 259.70,688.00Z" fill="#d4bfad" stroke="#3a3a3a" stroke-width="0.5"/><path d="M312.60,683.00C312.98,684.50 312.68,689.17 314.30,692.00C315.92,694.83 319.47,697.33 322.30,700.00C325.13,702.67 328.92,705.33 331.30,708.00C333.68,710.67 336.43,713.00 336.60,716.00C336.77,719.00 334.02,722.33 332.30,726.00C330.58,729.67 328.13,733.67 326.30,738.00C324.47,742.33 323.13,747.67 321.30,752.00C319.47,756.33 316.75,760.38 315.30,764.00C313.85,767.62 313.15,772.08 312.60,773.70C312.05,775.32 312.55,775.32 312.00,773.70C311.45,772.08 310.75,767.62 309.30,764.00C307.85,760.38 305.13,756.33 303.30,752.00C301.47,747.67 300.13,742.33 298.30,738.00C296.47,733.67 293.93,729.67 292.30,726.00C290.67,722.33 288.33,719.00 288.50,716.00C288.67,713.00 291.00,710.67 293.30,708.00C295.60,705.33 299.47,702.67 302.30,700.00C305.13,697.33 308.68,694.83 310.30,692.00C311.92,689.17 311.62,684.50 312.00,683.00C312.38,681.50 312.22,681.50 312.60,683.00Z" fill="#e8a6a1" stroke="#3a3a3a" stroke-width="0.5"/><circle cx="259.7" cy="728.3" r="1.6" fill="#000"/><circle cx="312.3" cy="725.2" r="1.6" fill="#000"/><text x="256.4" y="788.4" font-size="7.6" font-weight="bold" stroke="#222" stroke-width="0.22" text-anchor="middle" fill="#222" textLength="43.4" lengthAdjust="spacingAndGlyphs">Enterocyte I</text><text x="311.2" y="788.4" font-size="7.6" font-weight="bold" stroke="#222" stroke-width="0.22" text-anchor="middle" fill="#222" textLength="45.4" lengthAdjust="spacingAndGlyphs">Enterocyte II</text>
<text x="464.5" y="646.3" font-size="10.2" font-weight="bold" stroke="#111" stroke-width="0.3" text-anchor="middle" fill="#111" textLength="108" lengthAdjust="spacingAndGlyphs">Cholesterol transport</text><g stroke="#333" stroke-width="0.8" fill="none"><path d="M403.8,676.4 L403.8,777.5 L515,777.5"/><path d="M402.0,681.9 L403.8,681.9"/><path d="M402.0,703 L403.8,703"/><path d="M402.0,724.1 L403.8,724.1"/><path d="M402.0,746.4 L403.8,746.4"/><path d="M402.0,768 L403.8,768"/><path d="M435.1,777.5 L435.1,779.5"/><path d="M487.2,777.5 L487.2,779.5"/><path d="M435.1,680 L435.1,672 L487.2,672 L487.2,680" stroke-width="0.6"/></g><text x="401.2" y="684.6" font-size="7.6" font-weight="bold" stroke="#151515" stroke-width="0.22" text-anchor="end" fill="#151515">1.5</text><text x="401.2" y="705.7" font-size="7.6" font-weight="bold" stroke="#151515" stroke-width="0.22" text-anchor="end" fill="#151515">1.0</text><text x="401.2" y="726.8000000000001" font-size="7.6" font-weight="bold" stroke="#151515" stroke-width="0.22" text-anchor="end" fill="#151515">0.5</text><text x="401.2" y="749.1" font-size="7.6" font-weight="bold" stroke="#151515" stroke-width="0.22" text-anchor="end" fill="#151515">0.0</text><text x="401.2" y="770.7" font-size="7.6" font-weight="bold" stroke="#151515" stroke-width="0.22" text-anchor="end" fill="#151515">-0.5</text><text x="461.65" y="669.6" font-size="7" text-anchor="middle" fill="#222" textLength="39.1" lengthAdjust="spacingAndGlyphs">p &lt; 2.22e-16</text><path d="M435.40,699.00C435.58,703.33 435.62,718.83 435.90,725.00C436.18,731.17 436.23,732.83 437.10,736.00C437.97,739.17 438.93,741.33 441.10,744.00C443.27,746.67 447.17,749.53 450.10,752.00C453.03,754.47 458.87,756.80 458.70,758.80C458.53,760.80 452.98,761.92 449.10,764.00C445.22,766.08 437.78,770.08 435.40,771.30C433.02,772.52 437.18,772.52 434.80,771.30C432.42,770.08 424.98,766.08 421.10,764.00C417.22,761.92 411.67,760.80 411.50,758.80C411.33,756.80 417.17,754.47 420.10,752.00C423.03,749.53 426.93,746.67 429.10,744.00C431.27,741.33 432.23,739.17 433.10,736.00C433.97,732.83 434.02,731.17 434.30,725.00C434.58,718.83 434.62,703.33 434.80,699.00C434.98,694.67 435.22,694.67 435.40,699.00Z" fill="#d4bfad" stroke="#3a3a3a" stroke-width="0.5"/><path d="M487.50,680.70C487.80,683.08 487.92,689.78 488.70,695.00C489.48,700.22 490.45,706.50 492.20,712.00C493.95,717.50 496.70,723.33 499.20,728.00C501.70,732.67 505.27,736.93 507.20,740.00C509.13,743.07 510.73,744.08 510.80,746.40C510.87,748.72 507.73,751.83 507.60,753.90C507.47,755.97 511.07,756.95 510.00,758.80C508.93,760.65 504.95,762.72 501.20,765.00C497.45,767.28 489.88,771.25 487.50,772.50C485.12,773.75 489.28,773.75 486.90,772.50C484.52,771.25 477.00,767.28 473.20,765.00C469.40,762.72 465.20,760.65 464.10,758.80C463.00,756.95 466.68,755.97 466.60,753.90C466.52,751.83 463.50,748.72 463.60,746.40C463.70,744.08 465.27,743.07 467.20,740.00C469.13,736.93 472.70,732.67 475.20,728.00C477.70,723.33 480.45,717.50 482.20,712.00C483.95,706.50 484.92,700.22 485.70,695.00C486.48,689.78 486.60,683.08 486.90,680.70C487.20,678.32 487.20,678.32 487.50,680.70Z" fill="#e8a6a1" stroke="#3a3a3a" stroke-width="0.5"/><circle cx="435.1" cy="756.4" r="1.6" fill="#000"/><circle cx="487.2" cy="746.4" r="1.6" fill="#000"/><text x="434.4" y="788" font-size="7.6" font-weight="bold" stroke="#222" stroke-width="0.22" text-anchor="middle" fill="#222" textLength="43.4" lengthAdjust="spacingAndGlyphs">Enterocyte I</text><text x="489.5" y="788" font-size="7.6" font-weight="bold" stroke="#222" stroke-width="0.22" text-anchor="middle" fill="#222" textLength="45.4" lengthAdjust="spacingAndGlyphs">Enterocyte II</text>
<text x="622.1" y="646.3" font-size="10.2" font-weight="bold" stroke="#111" stroke-width="0.3" text-anchor="middle" fill="#111" textLength="105" lengthAdjust="spacingAndGlyphs">Amino acid transport</text><g stroke="#333" stroke-width="0.8" fill="none"><path d="M569.6,676.4 L569.6,777.5 L685,777.5"/><path d="M567.8000000000001,692.3 L569.6,692.3"/><path d="M567.8000000000001,714.9 L569.6,714.9"/><path d="M567.8000000000001,737.8 L569.6,737.8"/><path d="M567.8000000000001,760.1 L569.6,760.1"/><path d="M601.1,777.5 L601.1,779.5"/><path d="M653.2,777.5 L653.2,779.5"/><path d="M601.1,680 L601.1,672 L653.2,672 L653.2,680" stroke-width="0.6"/></g><text x="567.0" y="695.0" font-size="7.6" font-weight="bold" stroke="#151515" stroke-width="0.22" text-anchor="end" fill="#151515">0.4</text><text x="567.0" y="717.6" font-size="7.6" font-weight="bold" stroke="#151515" stroke-width="0.22" text-anchor="end" fill="#151515">0.2</text><text x="567.0" y="740.5" font-size="7.6" font-weight="bold" stroke="#151515" stroke-width="0.22" text-anchor="end" fill="#151515">0.0</text><text x="567.0" y="762.8000000000001" font-size="7.6" font-weight="bold" stroke="#151515" stroke-width="0.22" text-anchor="end" fill="#151515">-0.2</text><text x="628.5" y="669.6" font-size="7" text-anchor="middle" fill="#222" textLength="39.1" lengthAdjust="spacingAndGlyphs">p &lt; 2.22e-16</text><path d="M601.40,701.80C601.65,704.17 601.35,712.30 602.30,716.00C603.25,719.70 604.97,721.50 607.10,724.00C609.23,726.50 612.17,728.30 615.10,731.00C618.03,733.70 624.37,737.37 624.70,740.20C625.03,743.03 620.03,745.20 617.10,748.00C614.17,750.80 609.52,754.33 607.10,757.00C604.68,759.67 603.55,761.62 602.60,764.00C601.65,766.38 601.70,770.08 601.40,771.30C601.10,772.52 601.10,772.52 600.80,771.30C600.50,770.08 600.55,766.38 599.60,764.00C598.65,761.62 597.52,759.67 595.10,757.00C592.68,754.33 588.12,750.80 585.10,748.00C582.08,745.20 576.67,743.03 577.00,740.20C577.33,737.37 584.08,733.70 587.10,731.00C590.12,728.30 592.97,726.50 595.10,724.00C597.23,721.50 598.95,719.70 599.90,716.00C600.85,712.30 600.55,704.17 600.80,701.80C601.05,699.43 601.15,699.43 601.40,701.80Z" fill="#d4bfad" stroke="#3a3a3a" stroke-width="0.5"/><path d="M653.50,686.90C653.80,689.08 653.58,696.15 654.70,700.00C655.82,703.85 657.78,706.67 660.20,710.00C662.62,713.33 666.30,716.20 669.20,720.00C672.10,723.80 677.60,728.80 677.60,732.80C677.60,736.80 672.10,740.30 669.20,744.00C666.30,747.70 662.62,751.67 660.20,755.00C657.78,758.33 655.82,761.08 654.70,764.00C653.58,766.92 653.80,771.08 653.50,772.50C653.20,773.92 653.20,773.92 652.90,772.50C652.60,771.08 652.82,766.92 651.70,764.00C650.58,761.08 648.62,758.33 646.20,755.00C643.78,751.67 640.03,747.70 637.20,744.00C634.37,740.30 629.20,736.80 629.20,732.80C629.20,728.80 634.37,723.80 637.20,720.00C640.03,716.20 643.78,713.33 646.20,710.00C648.62,706.67 650.58,703.85 651.70,700.00C652.82,696.15 652.60,689.08 652.90,686.90C653.20,684.72 653.20,684.72 653.50,686.90Z" fill="#e8a6a1" stroke="#3a3a3a" stroke-width="0.5"/><circle cx="601.1" cy="739.7" r="1.6" fill="#000"/><circle cx="653.2" cy="733.3" r="1.6" fill="#000"/><text x="602.05" y="787.6" font-size="7.6" font-weight="bold" stroke="#222" stroke-width="0.22" text-anchor="middle" fill="#222" textLength="43.4" lengthAdjust="spacingAndGlyphs">Enterocyte I</text><text x="657.5" y="787.6" font-size="7.6" font-weight="bold" stroke="#222" stroke-width="0.22" text-anchor="middle" fill="#222" textLength="45.4" lengthAdjust="spacingAndGlyphs">Enterocyte II</text>
<text x="105" y="820.5" font-size="10.2" font-weight="bold" stroke="#111" stroke-width="0.3" text-anchor="middle" fill="#111" textLength="130" lengthAdjust="spacingAndGlyphs">Inorganic solute transport</text><g stroke="#333" stroke-width="0.8" fill="none"><path d="M47.2,848.3 L47.2,951.8 L165,951.8"/><path d="M45.400000000000006,853.8 L47.2,853.8"/><path d="M45.400000000000006,886 L47.2,886"/><path d="M45.400000000000006,919 L47.2,919"/><path d="M45.400000000000006,951.8 L47.2,951.8"/><path d="M79.4,951.8 L79.4,953.8"/><path d="M132.8,951.8 L132.8,953.8"/><path d="M79.4,850 L79.4,842.1 L132.8,842.1 L132.8,850" stroke-width="0.6"/></g><text x="44.6" y="856.5" font-size="7.6" font-weight="bold" stroke="#151515" stroke-width="0.22" text-anchor="end" fill="#151515">1.0</text><text x="44.6" y="888.7" font-size="7.6" font-weight="bold" stroke="#151515" stroke-width="0.22" text-anchor="end" fill="#151515">0.5</text><text x="44.6" y="921.7" font-size="7.6" font-weight="bold" stroke="#151515" stroke-width="0.22" text-anchor="end" fill="#151515">0.0</text><text x="44.6" y="954.5" font-size="7.6" font-weight="bold" stroke="#151515" stroke-width="0.22" text-anchor="end" fill="#151515">-0.5</text><text x="106.5" y="839.7" font-size="7" text-anchor="middle" fill="#222" textLength="39.1" lengthAdjust="spacingAndGlyphs">p &lt; 2.22e-16</text><path d="M79.70,883.00C79.95,885.83 79.82,895.67 80.60,900.00C81.38,904.33 82.27,906.33 84.40,909.00C86.53,911.67 90.18,913.70 93.40,916.00C96.62,918.30 103.70,920.63 103.70,922.80C103.70,924.97 96.78,926.63 93.40,929.00C90.02,931.37 85.68,934.02 83.40,937.00C81.12,939.98 80.42,945.25 79.70,946.90C78.98,948.55 79.82,948.55 79.10,946.90C78.38,945.25 77.68,939.98 75.40,937.00C73.12,934.02 68.78,931.37 65.40,929.00C62.02,926.63 55.10,924.97 55.10,922.80C55.10,920.63 62.18,918.30 65.40,916.00C68.62,913.70 72.27,911.67 74.40,909.00C76.53,906.33 77.42,904.33 78.20,900.00C78.98,895.67 78.85,885.83 79.10,883.00C79.35,880.17 79.45,880.17 79.70,883.00Z" fill="#d4bfad" stroke="#3a3a3a" stroke-width="0.5"/><path d="M133.10,855.00C133.40,857.17 133.18,863.83 134.30,868.00C135.42,872.17 137.22,875.50 139.80,880.00C142.38,884.50 146.95,889.82 149.80,895.00C152.65,900.18 157.23,906.60 156.90,911.10C156.57,915.60 150.98,918.52 147.80,922.00C144.62,925.48 140.25,928.77 137.80,932.00C135.35,935.23 133.98,939.83 133.10,941.40C132.22,942.97 133.38,942.97 132.50,941.40C131.62,939.83 130.25,935.23 127.80,932.00C125.35,928.77 120.98,925.48 117.80,922.00C114.62,918.52 109.03,915.60 108.70,911.10C108.37,906.60 112.95,900.18 115.80,895.00C118.65,889.82 123.22,884.50 125.80,880.00C128.38,875.50 130.18,872.17 131.30,868.00C132.42,863.83 132.20,857.17 132.50,855.00C132.80,852.83 132.80,852.83 133.10,855.00Z" fill="#e8a6a1" stroke="#3a3a3a" stroke-width="0.5"/><circle cx="79.4" cy="923.3" r="1.6" fill="#000"/><circle cx="132.8" cy="908.6" r="1.6" fill="#000"/><text x="80.3" y="962.4" font-size="7.6" font-weight="bold" stroke="#222" stroke-width="0.22" text-anchor="middle" fill="#222" textLength="43.4" lengthAdjust="spacingAndGlyphs">Enterocyte I</text><text x="135.5" y="962.4" font-size="7.6" font-weight="bold" stroke="#222" stroke-width="0.22" text-anchor="middle" fill="#222" textLength="45.4" lengthAdjust="spacingAndGlyphs">Enterocyte II</text>
<text x="281.8" y="820.5" font-size="10.2" font-weight="bold" stroke="#111" stroke-width="0.3" text-anchor="middle" fill="#111" textLength="62.6" lengthAdjust="spacingAndGlyphs">Cell junction</text><g stroke="#333" stroke-width="0.8" fill="none"><path d="M226.7,848.3 L226.7,952.2 L345,952.2"/><path d="M224.89999999999998,852.1 L226.7,852.1"/><path d="M224.89999999999998,879.9 L226.7,879.9"/><path d="M224.89999999999998,907.5 L226.7,907.5"/><path d="M224.89999999999998,934.6 L226.7,934.6"/><path d="M258.9,952.2 L258.9,954.2"/><path d="M312.6,952.2 L312.6,954.2"/><path d="M258.9,848.8 L258.9,842.4 L312.6,842.4 L312.6,848.8" stroke-width="0.6"/></g><text x="224.1" y="854.8000000000001" font-size="7.6" font-weight="bold" stroke="#151515" stroke-width="0.22" text-anchor="end" fill="#151515">1.0</text><text x="224.1" y="882.6" font-size="7.6" font-weight="bold" stroke="#151515" stroke-width="0.22" text-anchor="end" fill="#151515">0.5</text><text x="224.1" y="910.2" font-size="7.6" font-weight="bold" stroke="#151515" stroke-width="0.22" text-anchor="end" fill="#151515">0.0</text><text x="224.1" y="937.3000000000001" font-size="7.6" font-weight="bold" stroke="#151515" stroke-width="0.22" text-anchor="end" fill="#151515">-0.5</text><text x="286" y="840.0" font-size="7" text-anchor="middle" fill="#222" textLength="39.1" lengthAdjust="spacingAndGlyphs">p &lt; 2.22e-16</text><path d="M259.20,857.70C259.42,861.42 259.28,874.28 259.90,880.00C260.52,885.72 261.07,888.33 262.90,892.00C264.73,895.67 267.43,897.92 270.90,902.00C274.37,906.08 283.37,912.17 283.70,916.50C284.03,920.83 276.37,924.58 272.90,928.00C269.43,931.42 265.18,933.82 262.90,937.00C260.62,940.18 259.92,945.42 259.20,947.10C258.48,948.78 259.32,948.78 258.60,947.10C257.88,945.42 257.18,940.18 254.90,937.00C252.62,933.82 248.40,931.42 244.90,928.00C241.40,924.58 233.57,920.83 233.90,916.50C234.23,912.17 243.40,906.08 246.90,902.00C250.40,897.92 253.07,895.67 254.90,892.00C256.73,888.33 257.28,885.72 257.90,880.00C258.52,874.28 258.38,861.42 258.60,857.70C258.82,853.98 258.98,853.98 259.20,857.70Z" fill="#d4bfad" stroke="#3a3a3a" stroke-width="0.5"/><path d="M312.90,852.60C313.20,854.83 312.82,861.43 314.10,866.00C315.38,870.57 317.68,875.67 320.60,880.00C323.52,884.33 328.82,888.27 331.60,892.00C334.38,895.73 337.80,898.73 337.30,902.40C336.80,906.07 331.72,910.07 328.60,914.00C325.48,917.93 321.22,921.75 318.60,926.00C315.98,930.25 313.95,937.25 312.90,939.50C311.85,941.75 313.35,941.75 312.30,939.50C311.25,937.25 309.22,930.25 306.60,926.00C303.98,921.75 299.70,917.93 296.60,914.00C293.50,910.07 288.50,906.07 288.00,902.40C287.50,898.73 290.83,895.73 293.60,892.00C296.37,888.27 301.68,884.33 304.60,880.00C307.52,875.67 309.82,870.57 311.10,866.00C312.38,861.43 312.00,854.83 312.30,852.60C312.60,850.37 312.60,850.37 312.90,852.60Z" fill="#e8a6a1" stroke="#3a3a3a" stroke-width="0.5"/><circle cx="258.9" cy="915.2" r="1.6" fill="#000"/><circle cx="313.1" cy="901.7" r="1.6" fill="#000"/><text x="256.4" y="961.1" font-size="7.6" font-weight="bold" stroke="#222" stroke-width="0.22" text-anchor="middle" fill="#222" textLength="43.4" lengthAdjust="spacingAndGlyphs">Enterocyte I</text><text x="311.5" y="961.1" font-size="7.6" font-weight="bold" stroke="#222" stroke-width="0.22" text-anchor="middle" fill="#222" textLength="45.4" lengthAdjust="spacingAndGlyphs">Enterocyte II</text>
</svg></body></html>
